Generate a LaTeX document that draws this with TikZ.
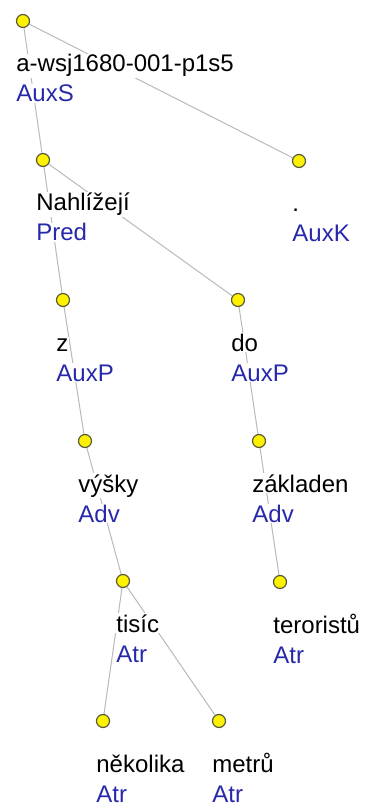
\documentclass[tikz,border=0pt]{standalone}
\usepackage{fontspec}
\setmainfont{Liberation Sans}
\usetikzlibrary{backgrounds}
\definecolor{afun}{RGB}{40,40,170}
\definecolor{dotrim}{RGB}{90,90,60}
\definecolor{edgegray}{RGB}{185,185,185}

\begin{document}
\begin{tikzpicture}[x=0.5pt, y=-0.5pt,
    dot/.style={circle, draw=dotrim, fill=yellow, line width=0.6pt,
        minimum size=6.5pt, inner sep=0pt},
    word/.style={anchor=base west, inner sep=0.5pt, fill=white,
        font=\fontsize{12}{14}\selectfont},
    func/.style={word, text=afun},
    edge/.style={draw=edgegray, line width=0.5pt}]
    \useasboundingbox (0,0) rectangle (369,807);

    % Tree nodes with word form and afun below
    \foreach \n/\x/\y/\w/\f in {
        root/23/21/a-wsj1680-001-p1s5/AuxS,
        pred/43/160/Nahlížejí/Pred,
        auxk/299/161/./AuxK,
        z/63/300/z/AuxP,
        do/238/300/do/AuxP,
        vysky/85/441/výšky/Adv,
        zakladen/259/441/základen/Adv,
        tisic/123/581/tisíc/Atr,
        teroristu/280/582/teroristů/Atr,
        nekolika/103/721/několika/Atr,
        metru/219/721/metrů/Atr}{
        \node[dot] (\n) at (\x,\y) {};
        \node[word] (\n-w) at (\x-8,\y+51) {\w};
        \node[func] (\n-f) at (\x-8,\y+81) {\f};
    }

    % Edges
    \begin{scope}[on background layer]
        \foreach \a/\b in {root/pred, root/auxk, pred/z, pred/do,
            z/vysky, do/zakladen, vysky/tisic, zakladen/teroristu,
            tisic/nekolika, tisic/metru}
            \draw[edge] (\a) -- (\b);
    \end{scope}
\end{tikzpicture}
\end{document}
